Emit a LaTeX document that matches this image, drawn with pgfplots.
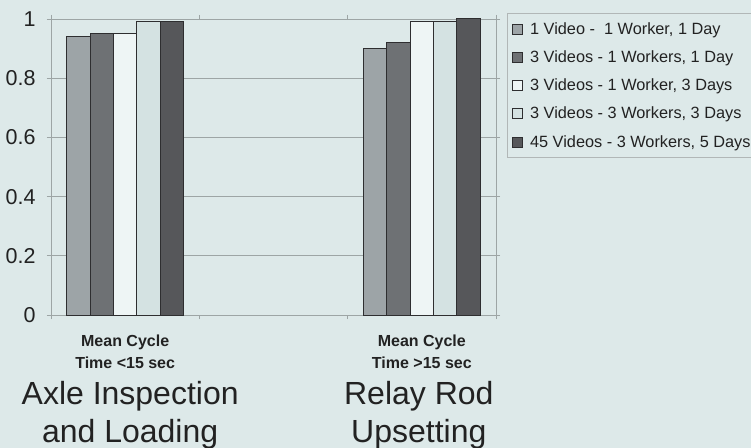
\documentclass[border=0pt]{standalone}
\usepackage{pgfplots}
\pgfplotsset{compat=1.18}
\usepackage{fontspec}
\setmainfont{Liberation Sans}
\definecolor{bg}{HTML}{DDE9E9}
\definecolor{gridc}{HTML}{9DA5A5}
\definecolor{txt}{HTML}{222222}
\definecolor{edge}{HTML}{2E2E30}
\definecolor{cA}{HTML}{9DA4A7}
\definecolor{cB}{HTML}{6E7174}
\definecolor{cC}{HTML}{EEF5F5}
\definecolor{cD}{HTML}{D4E2E2}
\definecolor{cE}{HTML}{56575A}
\pgfplotsset{
  sq/.style={legend image code/.code={\draw[##1,line width=0.8bp] (0bp,-5bp) rectangle (10bp,5bp);}},
}
\begin{document}
\begin{tikzpicture}
\fill[bg] (0,0) rectangle (751bp,448bp);
\path[use as bounding box] (0,0) rectangle (751bp,448bp);
\begin{axis}[
  at={(51bp,133bp)}, anchor=south west,
  scale only axis, width=445bp, height=296bp,
  xmin=0, xmax=3, ymin=0, ymax=1,
  ybar=0pt, bar width=23.3bp,
  axis line style={gridc, line width=0.8bp},
  ymajorgrids, major grid style={gridc, line width=0.8bp},
  tick align=outside, major tick length=4bp, tick style={gridc, line width=0.8bp},
  xtick={0,1,2,3}, xticklabels={},
  extra x ticks={0.5,2.5},
  extra x tick labels={{\textbf{Mean Cycle}\\\textbf{Time <15 sec}}, {\textbf{Mean Cycle}\\\textbf{Time >15 sec}}},
  extra x tick style={major tick length=0pt, grid=none,
    tick label style={align=center, font=\fontsize{16bp}{22bp}\selectfont, text=txt, yshift=-16bp}},
  ytick={0,0.2,0.4,0.6,0.8,1},
  yticklabel style={font=\fontsize{21.5bp}{24bp}\selectfont, text=txt, xshift=-8bp},
  /pgf/number format/assume math mode=true,
  legend style={at={(rel axis cs:1.0247,1.0203)}, anchor=north west,
    draw=gridc!80, fill=bg, line width=0.6bp, text=txt,
    font=\fontsize{16.3bp}{19bp}\selectfont, row sep=11bp,
    inner xsep=5bp, inner ysep=7bp,
    /tikz/every odd column/.append style={column sep=5bp}},
  legend cell align=left,
  every axis plot/.append style={draw=edge, line width=1bp},
  clip=false,
]
\addplot[fill=cA, sq] coordinates {(0.5,0.94) (2.5,0.90)};
\addplot[fill=cB, sq] coordinates {(0.5,0.95) (2.5,0.92)};
\addplot[fill=cC, sq] coordinates {(0.5,0.95) (2.5,0.99)};
\addplot[fill=cD, sq] coordinates {(0.5,0.99) (2.5,0.99)};
\addplot[fill=cE, sq] coordinates {(0.5,0.99) (2.5,1.00)};
\legend{{1 Video -\ \ 1 Worker, 1 Day}, {3 Videos - 1 Workers, 1 Day}, {3 Videos - 1 Worker, 3 Days}, {3 Videos - 3 Workers, 3 Days}, {45 Videos - 3 Workers, 5 Days}}
\node[anchor=north, align=center, inner sep=0pt, text=txt, font=\fontsize{32bp}{38.5bp}\selectfont]
  at ([xshift=5bp, yshift=-66bp]axis cs:0.5,0) {Axle Inspection\\and Loading};
\node[anchor=north, align=center, inner sep=0pt, text=txt, font=\fontsize{32bp}{38.5bp}\selectfont]
  at ([xshift=-3bp, yshift=-66bp]axis cs:2.5,0) {Relay Rod\\Upsetting};
\end{axis}
\end{tikzpicture}
\end{document}
